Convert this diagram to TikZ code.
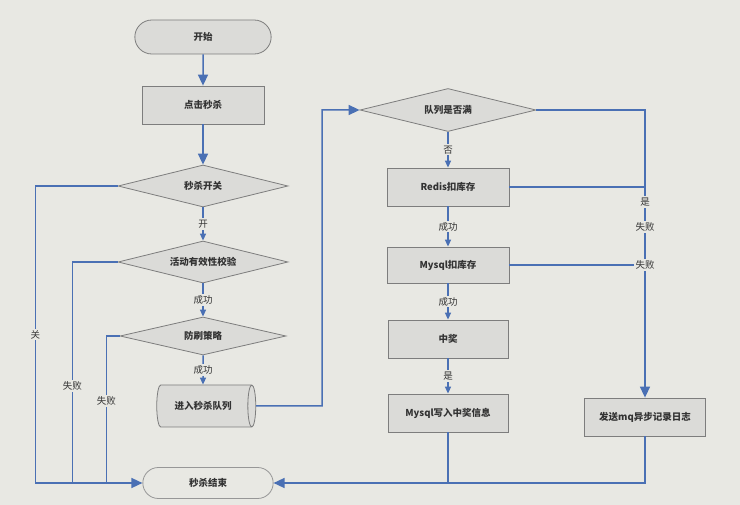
\documentclass[tikz,border=0pt]{standalone}
\usepackage{fontspec}
\setmainfont{Noto Sans CJK SC}
\usetikzlibrary{shapes.geometric,shapes.misc,arrows.meta}
\definecolor{bg}{RGB}{232,232,227}
\definecolor{ln}{RGB}{74,112,180}
\definecolor{bd}{RGB}{125,125,125}
\definecolor{fl}{RGB}{219,219,216}
\tikzset{
  every node/.style={font=\fontsize{9.5}{11}\selectfont\bfseries, text=black!80},
  term/.style={rounded rectangle, draw=bd, fill=fl, line width=0.8pt},
  proc/.style={rectangle, draw=bd, fill=fl, line width=0.8pt, minimum width=122pt, minimum height=38pt},
  dec/.style={diamond, draw=bd, fill=fl, line width=0.8pt, aspect=4, inner sep=0pt, minimum width=170pt, minimum height=42pt},
  con/.style={draw=ln, line width=1.5pt},
  bigtip/.style={-{Triangle[length=11pt,width=10pt]}},
  smtip/.style={-{Triangle[length=7pt,width=6pt]}},
  lab/.style={fill=bg, inner sep=1.5pt, font=\fontsize{9.5}{11}\selectfont},
}
\begin{document}
\begin{tikzpicture}[x=1pt,y=-1pt]
\fill[bg] (0,0) rectangle (740,505);
\useasboundingbox (0,0) rectangle (740,505);
% left column
\node[term, minimum width=143pt, minimum height=34pt] (start) at (203,37) {开始};
\node[proc] (click) at (203,105) {点击秒杀};
\node[dec] (sw) at (203,186) {秒杀开关};
\node[dec] (valid) at (203,262) {活动有效性校验};
\node[dec, minimum width=166pt, minimum height=38pt] (brush) at (203,336) {防刷策略};
\node[cylinder, draw=bd, fill=fl, line width=0.8pt, shape aspect=0.5, minimum height=99pt, minimum width=42pt] (queue) at (203,406) {进入秒杀队列};
\node[term, draw=bd!80, fill=bg, minimum width=137pt, minimum height=31pt] (end) at (208,483) {秒杀结束};
% middle column
\node[dec, minimum width=176pt, minimum height=43pt] (full) at (448,110) {队列是否满};
\node[proc] (redis) at (448,187) {Redis扣库存};
\node[proc, minimum height=36pt] (mysql) at (448,265) {Mysql扣库存};
\node[proc, minimum width=120pt] (win) at (448,339) {中奖};
\node[proc, minimum width=120pt] (write) at (448,413) {Mysql写入中奖信息};
% right
\node[proc, minimum width=121pt] (log) at (645,417) {发送mq异步记录日志};
\coordinate (qk) at (322,406);
\coordinate (rx) at (645,110);
% connectors
\draw[con,bigtip] (start) -- (click);
\draw[con,bigtip] (click) -- (sw.north);
\draw[con,smtip] (sw.south) -- node[lab]{开} (valid.north);
\draw[con,smtip] (valid.south) -- node[lab]{成功} (brush.north);
\draw[con,smtip] (brush.south) -- node[lab]{成功} (queue.north);
\draw[con,bigtip] (queue.east) -- (qk) |- (full.west);
\draw[con,smtip] (full.south) -- node[lab]{否} (redis.north);
\draw[con,smtip] (redis.south) -- node[lab]{成功} (mysql.north);
\draw[con,smtip] (mysql.south) -- node[lab]{成功} (win.north);
\draw[con,smtip] (win.south) -- node[lab]{是} (write.north);
\draw[con,bigtip] (full.east) -- (rx) -- (log.north);
\draw[con] (redis.east) -- (redis.east -| rx);
\draw[con] (mysql.east) -- (mysql.east -| rx) node[lab]{失败};
\node[lab] (lyes) at (645,202) {是};
\node[lab] (lfail) at (645,227) {失败};
\draw[con,bigtip] (log.south) |- (end.east);
\draw[con] (write.south) -- (write.south |- end.east);
\draw[con,bigtip] (sw.west) -| ([xshift=-107pt]end.west) node[pos=0.75, lab]{关} |- (end.west);
\draw[con] (valid.west) -| ([xshift=-70pt]end.west) node[pos=0.78, lab]{失败};
\draw[con] (brush.west) -| ([xshift=-36pt]end.west) node[pos=0.72, lab]{失败};
\end{tikzpicture}
\end{document}
